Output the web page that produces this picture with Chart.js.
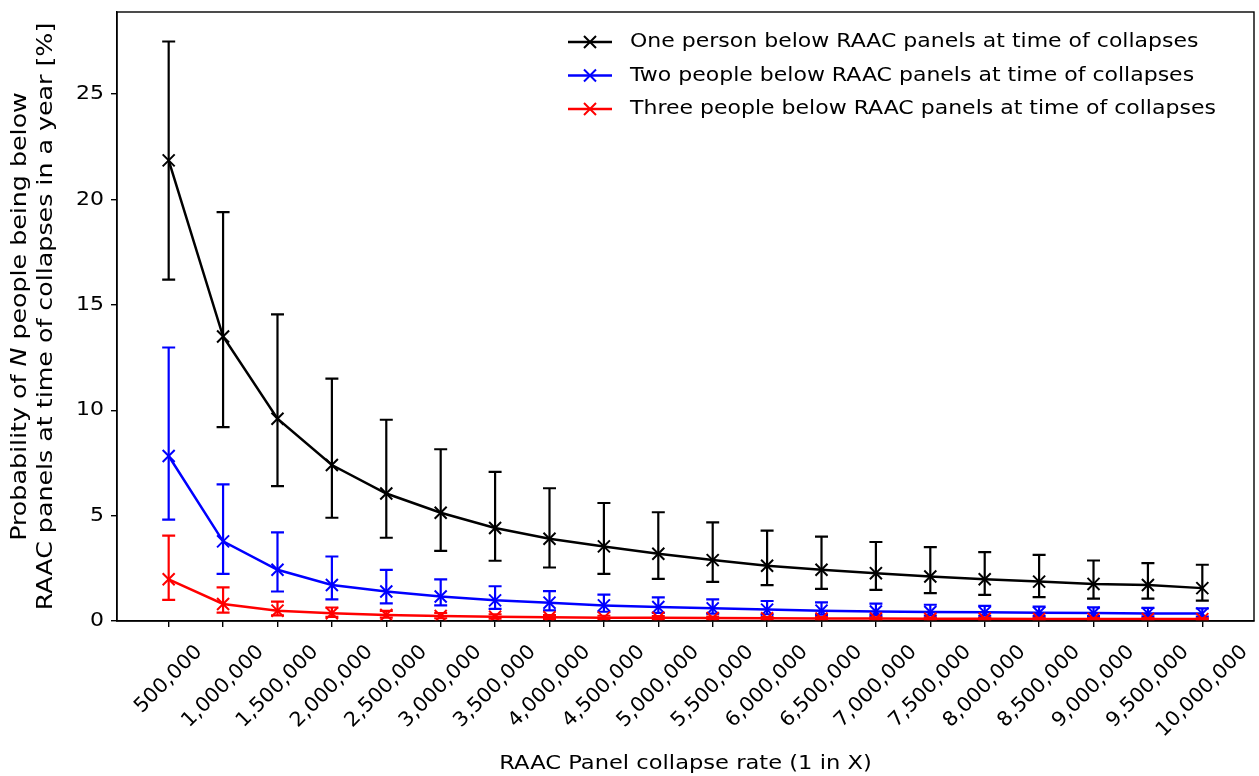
<!DOCTYPE html>
<html>
<head>
<meta charset="utf-8">
<script src="https://cdn.jsdelivr.net/npm/chart.js@4.4.0/dist/chart.umd.min.js"></script>
<style>
  html, body { margin: 0; padding: 0; background: #fff; }
  canvas { display: block; }
</style>
</head>
<body>
<canvas id="chart" width="1259" height="776"></canvas>
<script>
// collapse rate (1 in X)
const rates = [500000, 1000000, 1500000, 2000000, 2500000, 3000000, 3500000, 4000000, 4500000, 5000000,
               5500000, 6000000, 6500000, 7000000, 7500000, 8000000, 8500000, 9000000, 9500000, 10000000];
const rateLabels = ["500,000", "1,000,000", "1,500,000", "2,000,000", "2,500,000", "3,000,000", "3,500,000",
                    "4,000,000", "4,500,000", "5,000,000", "5,500,000", "6,000,000", "6,500,000", "7,000,000",
                    "7,500,000", "8,000,000", "8,500,000", "9,000,000", "9,500,000", "10,000,000"];
const yTicks = [0, 5, 10, 15, 20, 25];

// one person
const onePerson     = [21.86, 13.5, 9.6, 7.4, 6.05, 5.14, 4.41, 3.9, 3.54, 3.19, 2.89, 2.62, 2.43, 2.27, 2.11, 1.98, 1.87, 1.76, 1.71, 1.56];
const onePersonHigh = [27.5, 19.4, 14.55, 11.5, 9.55, 8.15, 7.08, 6.3, 5.6, 5.16, 4.68, 4.29, 4.0, 3.75, 3.51, 3.27, 3.14, 2.87, 2.75, 2.67];
const onePersonLow  = [16.2, 9.2, 6.4, 4.9, 3.95, 3.33, 2.86, 2.54, 2.24, 2.0, 1.86, 1.7, 1.52, 1.48, 1.32, 1.24, 1.13, 1.06, 1.06, 0.97];

// two people
const twoPeople     = [7.83, 3.78, 2.43, 1.71, 1.4, 1.16, 0.98, 0.87, 0.74, 0.66, 0.6, 0.54, 0.49, 0.45, 0.43, 0.41, 0.39, 0.38, 0.36, 0.35];
const twoPeopleHigh = [12.98, 6.48, 4.21, 3.06, 2.43, 1.98, 1.65, 1.42, 1.25, 1.12, 1.03, 0.95, 0.88, 0.82, 0.77, 0.72, 0.68, 0.65, 0.62, 0.6];
const twoPeopleLow  = [4.81, 2.24, 1.4, 1.03, 0.84, 0.74, 0.58, 0.5, 0.44, 0.39, 0.35, 0.32, 0.3, 0.28, 0.26, 0.25, 0.24, 0.23, 0.22, 0.21];

// three people
const threePeople     = [1.98, 0.81, 0.49, 0.37, 0.29, 0.24, 0.2, 0.18, 0.16, 0.15, 0.14, 0.13, 0.12, 0.12, 0.11, 0.11, 0.1, 0.1, 0.1, 0.09];
const threePeopleHigh = [4.05, 1.6, 0.92, 0.64, 0.48, 0.38, 0.32, 0.28, 0.25, 0.23, 0.21, 0.19, 0.18, 0.17, 0.16, 0.15, 0.15, 0.14, 0.14, 0.13];
const threePeopleLow  = [1.0, 0.4, 0.27, 0.2, 0.16, 0.13, 0.11, 0.1, 0.09, 0.08, 0.07, 0.07, 0.06, 0.06, 0.06, 0.05, 0.05, 0.05, 0.05, 0.05];

const seriesNames = [
    "One person below RAAC panels at time of collapses",
    "Two people below RAAC panels at time of collapses",
    "Three people below RAAC panels at time of collapses"
];
const seriesColors = ["#000000", "#0000ff", "#ff0000"];

document.addEventListener("DOMContentLoaded", function () {
    const FONT = "DejaVu Sans";
    const FS = 20;
    const errors = [
        { low: onePersonLow, high: onePersonHigh },
        { low: twoPeopleLow, high: twoPeopleHigh },
        { low: threePeopleLow, high: threePeopleHigh }
    ];

    function toPoints(values) {
        return values.map((v, i) => ({ x: rates[i], y: v }));
    }

    function makeDataset(i, values) {
        return {
            label: seriesNames[i],
            data: toPoints(values),
            borderColor: seriesColors[i],
            backgroundColor: seriesColors[i],
            borderWidth: 2.5,
            pointStyle: "crossRot",
            pointRadius: 8.5,
            pointBorderWidth: 2,
            tension: 0,
            order: 2 - i
        };
    }

    // text stretched along its own direction (the reference text is a bit wide)
    function wideText(ctx, text, x, y, sx, align) {
        ctx.save();
        ctx.translate(x, y);
        ctx.scale(sx, 1);
        ctx.textAlign = align;
        ctx.fillText(text, 0, 0);
        ctx.restore();
    }

    // error bars, drawn right before each series
    const errorBars = {
        id: "errorBars",
        beforeDatasetDraw(chart, args) {
            const err = errors[args.index];
            if (!err) return;
            const ctx = chart.ctx;
            const xs = chart.scales.x, ys = chart.scales.y;
            ctx.save();
            ctx.strokeStyle = seriesColors[args.index];
            ctx.lineWidth = 2.2;
            rates.forEach((r, i) => {
                const x = xs.getPixelForValue(r);
                const y1 = ys.getPixelForValue(err.low[i]);
                const y2 = ys.getPixelForValue(err.high[i]);
                ctx.beginPath();
                ctx.moveTo(x, y1); ctx.lineTo(x, y2);
                ctx.moveTo(x - 6.5, y1); ctx.lineTo(x + 6.5, y1);
                ctx.moveTo(x - 6.5, y2); ctx.lineTo(x + 6.5, y2);
                ctx.stroke();
            });
            ctx.restore();
        }
    };

    // frame, tick labels, axis titles and legend
    const decorations = {
        id: "decorations",
        afterDraw(chart) {
            const ctx = chart.ctx;
            const a = chart.chartArea;
            const xs = chart.scales.x, ys = chart.scales.y;
            ctx.save();

            ctx.strokeStyle = "#000";
            ctx.lineWidth = 1.4;
            ctx.strokeRect(a.left, a.top, a.right - a.left, a.bottom - a.top);

            ctx.fillStyle = "#000";
            ctx.font = FS + "px '" + FONT + "'";
            ctx.textBaseline = "middle";

            // y tick labels
            yTicks.forEach(v => {
                wideText(ctx, String(v), a.left - 13, ys.getPixelForValue(v), 1.1, "right");
            });

            // x tick labels, rotated 45 and centred on the tick
            const h = FS * 1.1;
            const sxTick = 1.05;
            rateLabels.forEach((lab, i) => {
                const w = ctx.measureText(lab).width * sxTick;
                const half = (w + h) * Math.SQRT1_2 / 2;
                ctx.save();
                ctx.translate(xs.getPixelForValue(rates[i]), a.bottom + 20 + half);
                ctx.rotate(-Math.PI / 4);
                wideText(ctx, lab, 0, 0, sxTick, "center");
                ctx.restore();
            });

            // x title
            wideText(ctx, "RAAC Panel collapse rate (1 in X)", (a.left + a.right) / 2, 764, 1.13, "center");

            // y title, two lines, N in italics
            const FY = 22;
            const syT = 1.15;
            const cy = (a.top + a.bottom) / 2;
            ctx.save();
            ctx.translate(20, cy);
            ctx.rotate(-Math.PI / 2);
            ctx.scale(syT, 1);
            ctx.textAlign = "left";
            const parts = [["Probability of ", ""], ["N", "italic "], [" people being below", ""]];
            let total = 0;
            parts.forEach(p => { ctx.font = p[1] + FY + "px '" + FONT + "'"; total += ctx.measureText(p[0]).width; });
            let px = -total / 2;
            parts.forEach(p => {
                ctx.font = p[1] + FY + "px '" + FONT + "'";
                ctx.fillText(p[0], px, 0);
                px += ctx.measureText(p[0]).width;
            });
            ctx.font = FY + "px '" + FONT + "'";
            ctx.textAlign = "center";
            ctx.fillText("RAAC panels at time of collapses in a year [%]", 0, 26);
            ctx.restore();

            // legend
            ctx.font = FS + "px '" + FONT + "'";
            seriesNames.forEach((name, i) => {
                const y = 42 + i * 33.5;
                ctx.strokeStyle = seriesColors[i];
                ctx.lineWidth = 2.5;
                ctx.beginPath();
                ctx.moveTo(568, y); ctx.lineTo(612, y);
                ctx.stroke();
                ctx.lineWidth = 2;
                ctx.beginPath();
                ctx.moveTo(584, y - 6); ctx.lineTo(596, y + 6);
                ctx.moveTo(584, y + 6); ctx.lineTo(596, y - 6);
                ctx.stroke();
                wideText(ctx, name, 630, y, 1.1, "left");
            });

            ctx.restore();
        }
    };

    const axisLine = { color: "#000", width: 1.4 };
    const tickGrid = { drawOnChartArea: false, drawTicks: true, tickLength: 6, color: "#000", lineWidth: 1.4 };

    new Chart(document.getElementById("chart"), {
        type: "line",
        data: {
            datasets: [
                makeDataset(0, onePerson),
                makeDataset(1, twoPeople),
                makeDataset(2, threePeople)
            ]
        },
        options: {
            responsive: false,
            animation: false,
            layout: { autoPadding: false, padding: { top: 12, right: 5, left: 0, bottom: 0 } },
            plugins: {
                legend: { display: false },
                tooltip: { enabled: false }
            },
            scales: {
                x: {
                    type: "linear",
                    min: rates[0] - 475000,
                    max: rates[rates.length - 1] + 475000,
                    afterBuildTicks: s => { s.ticks = rates.map(v => ({ value: v })); },
                    afterFit: s => { s.height = 155; },
                    ticks: { display: false },
                    grid: tickGrid,
                    border: axisLine
                },
                y: {
                    min: 0,
                    max: 28.9,
                    afterBuildTicks: s => { s.ticks = yTicks.map(v => ({ value: v })); },
                    afterFit: s => { s.width = 117; },
                    ticks: { display: false },
                    grid: tickGrid,
                    border: axisLine
                }
            }
        },
        plugins: [errorBars, decorations]
    });
});
</script>
</body>
</html>
